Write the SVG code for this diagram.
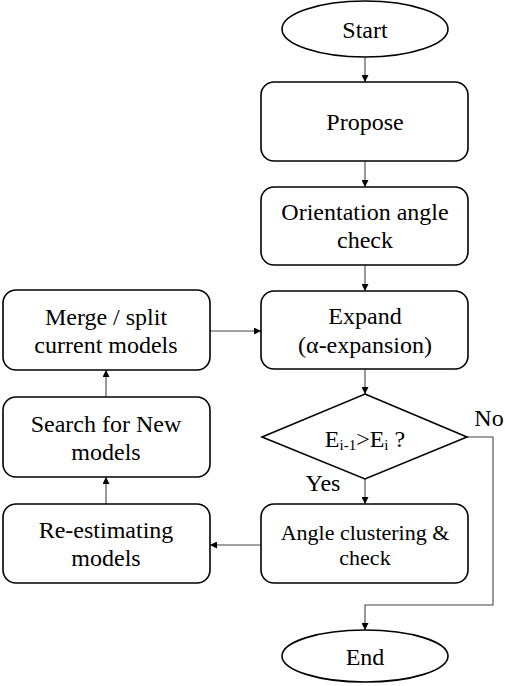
<svg xmlns="http://www.w3.org/2000/svg" width="505" height="686" viewBox="0 0 505 686">
<style>
.box{fill:#fff;stroke:#000;stroke-width:1.6}
.t{font-family:'Liberation Serif','Times New Roman',serif;font-size:24px;fill:#000;text-anchor:middle}
.s{font-size:22px}
.sub{font-size:15px}
.c{fill:none;stroke:#444;stroke-width:1.1}
</style>
<defs>
<marker id="ah" viewBox="0 0 10 10" refX="10" refY="5" markerWidth="7" markerHeight="7" markerUnits="userSpaceOnUse" orient="auto">
<path d="M0,0 L10,5 L0,10 z" fill="#000"/>
</marker>
</defs>
<rect width="505" height="686" fill="#fff"/>
<g id="connectors">
<line class="c" x1="365" y1="57" x2="365" y2="82" marker-end="url(#ah)"/>
<line class="c" x1="365" y1="161" x2="365" y2="187" marker-end="url(#ah)"/>
<line class="c" x1="365" y1="265" x2="365" y2="291" marker-end="url(#ah)"/>
<line class="c" x1="365" y1="369" x2="365" y2="394" marker-end="url(#ah)"/>
<line class="c" x1="365" y1="479" x2="365" y2="504" marker-end="url(#ah)"/>
<polyline class="c" points="467,437 493,437 493,605 365,605 365,630" marker-end="url(#ah)"/>
<line class="c" x1="261" y1="545" x2="210" y2="545" marker-end="url(#ah)"/>
<line class="c" x1="106" y1="504" x2="106" y2="477" marker-end="url(#ah)"/>
<line class="c" x1="106" y1="397" x2="106" y2="370" marker-end="url(#ah)"/>
<line class="c" x1="210" y1="331" x2="261" y2="331" marker-end="url(#ah)"/>
<text class="t" x="489" y="426">No</text>
<text class="t" x="323" y="491">Yes</text>
</g>
<g id="start">
<ellipse class="box" cx="365" cy="29" rx="83" ry="28"/>
<text class="t" x="365" y="38">Start</text>
</g>
<g id="propose">
<rect class="box" x="261" y="82" width="207" height="79" rx="13"/>
<text class="t" x="365" y="130">Propose</text>
</g>
<g id="orientation">
<rect class="box" x="261" y="187" width="207" height="78" rx="13"/>
<text class="t" x="365" y="220">Orientation angle</text>
<text class="t" x="365" y="248">check</text>
</g>
<g id="expand">
<rect class="box" x="261" y="291" width="207" height="78" rx="13"/>
<text class="t" x="365" y="324">Expand</text>
<text class="t" x="365" y="353">(α-expansion)</text>
</g>
<g id="decision">
<polygon class="box" points="365,394 467,437 365,479 262,437"/>
<text class="t" x="365" y="447">E<tspan class="sub" dy="3">i-1</tspan><tspan dy="-3">&gt;E</tspan><tspan class="sub" dy="3">i</tspan><tspan dy="-3"> ?</tspan></text>
</g>
<g id="angle">
<rect class="box" x="261" y="504" width="207" height="79" rx="13"/>
<text class="t s" x="365" y="540">Angle clustering &amp;</text>
<text class="t s" x="365" y="565">check</text>
</g>
<g id="end">
<ellipse class="box" cx="365" cy="656" rx="83" ry="26"/>
<text class="t" x="365" y="665">End</text>
</g>
<g id="merge">
<rect class="box" x="3" y="290" width="207" height="80" rx="13"/>
<text class="t" x="106" y="325">Merge / split</text>
<text class="t" x="106" y="353">current models</text>
</g>
<g id="search">
<rect class="box" x="3" y="397" width="207" height="80" rx="13"/>
<text class="t" x="106" y="432">Search for New</text>
<text class="t" x="106" y="460">models</text>
</g>
<g id="reestimate">
<rect class="box" x="3" y="504" width="207" height="79" rx="13"/>
<text class="t" x="106" y="538">Re-estimating</text>
<text class="t" x="106" y="566">models</text>
</g>
</svg>
